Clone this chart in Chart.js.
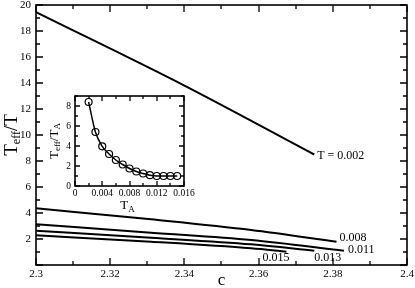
<!DOCTYPE html>
<html>
<head>
<meta charset="utf-8">
<script src="https://cdn.jsdelivr.net/npm/chart.js@4.4.0/dist/chart.umd.min.js"></script>
<style>
  html, body { margin: 0; padding: 0; background: #fff; }
  #wrap { position: relative; width: 415px; height: 288px; }
  #main { position: absolute; left: 0; top: 0; }
  #inset { position: absolute; left: 40px; top: 88px; }
</style>
</head>
<body>
<div id="wrap">
  <canvas id="main" width="415" height="288"></canvas>
  <canvas id="inset" width="160" height="127"></canvas>
</div>
<script>
// Teff/T against c, one curve per temperature
const c002 = [2.300, 2.340, 2.375];
const r002 = [19.45, 13.8, 8.5];
const c008 = [2.300, 2.331, 2.358, 2.381];
const r008 = [4.36, 3.51, 2.69, 1.79];
const c011 = [2.300, 2.331, 2.358, 2.383];
const r011 = [3.13, 2.48, 1.92, 1.10];
const c013 = [2.300, 2.331, 2.358, 2.375];
const r013 = [2.64, 2.10, 1.59, 1.10];
const c015 = [2.300, 2.331, 2.358, 2.3675];
const r015 = [2.28, 1.79, 1.28, 1.02];
const curveLabels = ["T = 0.002", "0.008", "0.011", "0.013", "0.015"];

// inset: Teff/TA against TA
const tA = [0.002, 0.003, 0.004, 0.005, 0.006, 0.007, 0.008, 0.009, 0.010, 0.011, 0.012, 0.013, 0.014, 0.015];
const ratioA = [8.4, 5.4, 3.97, 3.2, 2.6, 2.15, 1.75, 1.45, 1.25, 1.08, 1.0, 1.0, 1.0, 1.0];

Chart.defaults.color = "#000";
Chart.defaults.font.family = "'Liberation Serif', 'DejaVu Serif', serif";
Chart.defaults.animation = false;

const pts = (xs, ys) => xs.map((x, i) => ({ x: x, y: ys[i] }));

// box plus inward ticks on all four sides
function frameTicks(o) {
    return {
        id: "frameTicks",
        afterDraw(chart) {
            const { ctx, chartArea: a, scales } = chart;
            ctx.save();
            ctx.strokeStyle = "#000";
            ctx.lineCap = "butt";
            const L = Math.round(a.left), R = Math.round(a.right);
            const T = Math.round(a.top), B = Math.round(a.bottom);
            ctx.lineWidth = 1.6;
            ctx.strokeRect(L, T, R - L, B - T);
            ctx.lineWidth = 1.3;
            ctx.beginPath();
            const doAxis = (sc, minor, every, horiz) => {
                const n = Math.round((sc.max - sc.min) / minor);
                for (let i = 0; i <= n; i++) {
                    const p = Math.round(sc.getPixelForValue(sc.min + i * minor));
                    const len = i % every === 0 ? o.major : o.minor;
                    if (horiz) {
                        ctx.moveTo(p, B); ctx.lineTo(p, B - len);
                        ctx.moveTo(p, T); ctx.lineTo(p, T + len);
                    } else {
                        ctx.moveTo(L, p); ctx.lineTo(L + len, p);
                        ctx.moveTo(R, p); ctx.lineTo(R - len, p);
                    }
                }
            };
            doAxis(scales.x, o.xMinor, o.xEvery, true);
            doAxis(scales.y, o.yMinor, o.yEvery, false);
            ctx.stroke();
            ctx.restore();
        }
    };
}

// text with a subscript, centred on (x, y), optionally rotated
function subText(ctx, parts, x, y, rot) {
    const fam = "'Liberation Serif', serif";
    let w = 0;
    parts.forEach(p => { ctx.font = p.size + "px " + fam; p.w = ctx.measureText(p.t).width; w += p.w; });
    ctx.save();
    ctx.translate(x, y);
    if (rot) ctx.rotate(rot);
    ctx.fillStyle = "#000";
    ctx.textBaseline = "middle";
    ctx.textAlign = "left";
    let cx = -w / 2;
    parts.forEach(p => {
        ctx.font = p.size + "px " + fam;
        ctx.fillText(p.t, cx, p.dy || 0);
        cx += p.w;
    });
    ctx.restore();
}

const mainTitles = {
    id: "mainTitles",
    afterDraw(chart) {
        const { ctx, chartArea: a } = chart;
        subText(ctx, [{ t: "T", size: 19 }, { t: "eff", size: 12, dy: 5 }, { t: "/T", size: 19 }],
            12, (a.top + a.bottom) / 2, -Math.PI / 2);
        subText(ctx, [{ t: "c", size: 17 }], (a.left + a.right) / 2, 281);
        // curve labels at the end of each curve
        const offs = [[3, 1, "left"], [3, -4, "left"], [4, -1, "left"], [0, 7, "left"], [3, 6, "right"]];
        ctx.save();
        ctx.font = "12px 'Liberation Serif', serif";
        ctx.textBaseline = "middle";
        ctx.fillStyle = "#000";
        chart.data.datasets.forEach((ds, i) => {
            const last = ds.data[ds.data.length - 1];
            const px = chart.scales.x.getPixelForValue(last.x);
            const py = chart.scales.y.getPixelForValue(last.y);
            ctx.textAlign = offs[i][2];
            ctx.fillText(curveLabels[i], px + offs[i][0], py + offs[i][1]);
        });
        ctx.restore();
    }
};

const insetTitles = {
    id: "insetTitles",
    afterDraw(chart) {
        const { ctx, chartArea: a } = chart;
        subText(ctx, [{ t: "T", size: 13 }, { t: "eff", size: 9, dy: 3 }, { t: "/T", size: 13 }, { t: "A", size: 9, dy: 3 }],
            15, (a.top + a.bottom) / 2, -Math.PI / 2);
        subText(ctx, [{ t: "T", size: 13 }, { t: "A", size: 9, dy: 4 }], (a.left + a.right) / 2 - 2, 118);
    }
};

const lineStyle = { borderColor: "#000", borderWidth: 2, pointRadius: 0, cubicInterpolationMode: "monotone", fill: false };
const noPadY = s => { s.paddingTop = 0; s.paddingBottom = 0; };
const noPadX = s => { s.paddingLeft = 0; s.paddingRight = 0; };

new Chart(document.getElementById("main"), {
    type: "line",
    data: {
        datasets: [
            { ...lineStyle, data: pts(c002, r002) },
            { ...lineStyle, data: pts(c008, r008) },
            { ...lineStyle, data: pts(c011, r011) },
            { ...lineStyle, data: pts(c013, r013) },
            { ...lineStyle, data: pts(c015, r015) }
        ]
    },
    options: {
        responsive: false,
        layout: { padding: { top: 5, right: 8, left: 0, bottom: 0 } },
        plugins: { legend: { display: false }, tooltip: { enabled: false } },
        scales: {
            x: {
                type: "linear", min: 2.3, max: 2.4,
                grid: { display: false, drawTicks: false }, border: { display: false },
                ticks: { stepSize: 0.02, maxRotation: 0, autoSkip: false, padding: 3, font: { size: 11 },
                    callback: v => String(Number(v.toFixed(2))) },
                afterFit: s => { s.height = 23; noPadX(s); }
            },
            y: {
                min: 0, max: 20,
                grid: { display: false, drawTicks: false }, border: { display: false },
                ticks: { stepSize: 2, padding: 5, font: { size: 11 },
                    callback: v => (v === 0 ? "" : v) },
                afterFit: s => { s.width = 36; noPadY(s); }
            }
        }
    },
    plugins: [frameTicks({ xMinor: 0.01, xEvery: 2, yMinor: 1, yEvery: 2, major: 7, minor: 4 }), mainTitles]
});

new Chart(document.getElementById("inset"), {
    type: "line",
    data: {
        datasets: [{
            data: pts(tA, ratioA),
            borderColor: "#000", borderWidth: 1.5, cubicInterpolationMode: "monotone",
            pointRadius: 3.5, pointBorderWidth: 1.2, pointBorderColor: "#000",
            pointBackgroundColor: "rgba(0,0,0,0)", fill: false
        }]
    },
    options: {
        responsive: false,
        layout: { padding: { top: 8, right: 16, left: 0, bottom: 0 } },
        plugins: { legend: { display: false }, tooltip: { enabled: false } },
        scales: {
            x: {
                type: "linear", min: 0, max: 0.016,
                grid: { display: false, drawTicks: false }, border: { display: false },
                ticks: { stepSize: 0.004, maxRotation: 0, autoSkip: false, padding: 2, font: { size: 9.5 },
                    callback: v => (v === 0 ? "0" : v.toFixed(3)) },
                afterFit: s => { s.height = 29; noPadX(s); }
            },
            y: {
                min: 0, max: 9,
                grid: { display: false, drawTicks: false }, border: { display: false },
                ticks: { stepSize: 2, padding: 4, font: { size: 9.5 } },
                afterBuildTicks: s => { s.ticks = s.ticks.filter(t => t.value % 2 === 0); },
                afterFit: s => { s.width = 35; noPadY(s); }
            }
        }
    },
    plugins: [frameTicks({ xMinor: 0.002, xEvery: 2, yMinor: 1, yEvery: 2, major: 5, minor: 3 }), insetTitles]
});
</script>
</body>
</html>
